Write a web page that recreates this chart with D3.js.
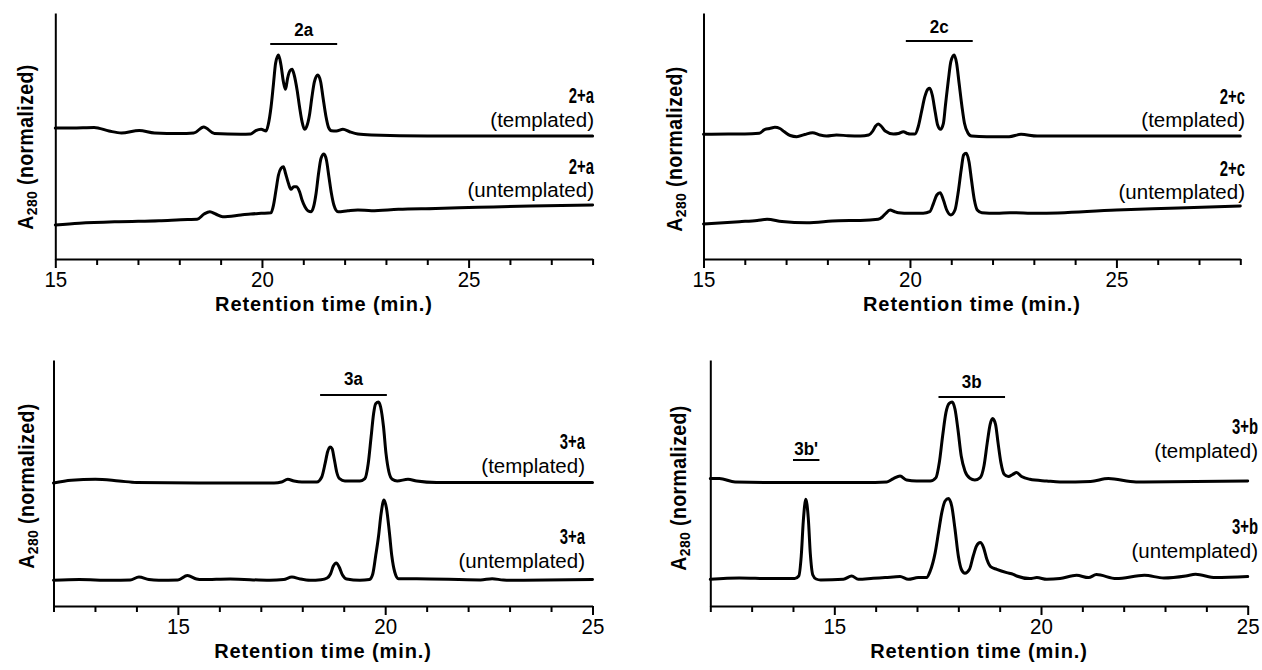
<!DOCTYPE html>
<html lang="en">
<head>
  <meta charset="UTF-8">
  <script src="https://d3js.org/d3.v7.min.js"></script>
  <style>
    body { margin: 0; background: #fff; }
    svg { font-family: "Liberation Sans", Arial, sans-serif; }
    .trace { fill: none; stroke: #000; stroke-width: 3px; stroke-linejoin: round; stroke-linecap: round; }
    .axis path, .axis line { stroke: #000; stroke-width: 2px; }
    .bracket { stroke: #000; stroke-width: 2px; }
  </style>
</head>
<body>
<svg id="chart" width="1262" height="670"></svg>
<script>
  // retention time (min) vs A280, arbitrary units
  const p1Templated = [[15.0,131],[15.4,131],[15.94,131.5],[16.3,128],[16.6,126],[17.03,128.5],[17.4,126],[18.0,125.5],[18.35,126],[18.59,132],[18.85,125.5],[19.49,124.7],[19.73,125],[19.85,128.3],[19.98,129.7],[20.10,128],[20.15,134],[20.22,152],[20.28,175.7],[20.33,195.7],[20.40,204],[20.46,194],[20.52,177],[20.57,169.7],[20.62,180.7],[20.68,188.3],[20.73,189.7],[20.78,184],[20.85,169],[20.91,152],[20.97,137.3],[21.03,129.7],[21.08,132.3],[21.15,144],[21.21,162.3],[21.27,177.3],[21.35,184],[21.42,177.3],[21.48,160.7],[21.55,142.3],[21.61,131.7],[21.68,128.3],[21.80,128],[21.96,129.7],[22.12,127.3],[22.32,125],[22.65,124],[24,123],[26,123],[28,123]];
  const p1Untemplated = [[15.0,34],[15.58,35.7],[16.54,37.3],[17.51,38.3],[18.2,39.5],[18.43,39.7],[18.6,45],[18.74,47.3],[18.88,45],[19.05,42.3],[19.49,44],[19.73,45],[19.98,45.7],[20.22,46.3],[20.28,54],[20.34,69],[20.40,84],[20.46,90.7],[20.52,92.3],[20.57,85.7],[20.64,75.7],[20.70,69.7],[20.77,72.3],[20.83,72.3],[20.91,67.3],[20.97,59],[21.04,52.3],[21.11,48.3],[21.19,47.3],[21.25,52.3],[21.31,65.7],[21.37,85.7],[21.43,100.7],[21.50,105],[21.56,99],[21.62,82.3],[21.68,65.7],[21.74,54],[21.84,47.3],[22.08,48.3],[22.32,49],[22.65,48.3],[23.3,49.7],[24.2,50.5],[25.23,51.7],[26.5,53],[28,54]];

  const p2Templated = [[15.0,124.7],[15.6,125],[16.0,125],[16.35,125.7],[16.49,129.7],[16.6,130.5],[16.73,131.7],[16.85,130.5],[16.95,127.5],[17.1,123.5],[17.26,122.3],[17.45,124.5],[17.64,126.3],[17.82,124],[17.98,123],[18.22,124],[18.5,123.3],[18.8,123],[19.0,124],[19.1,128],[19.17,133],[19.23,135],[19.3,133],[19.4,128],[19.6,125],[19.72,125.5],[19.84,127.3],[19.94,125.5],[20.0,125],[20.12,125],[20.20,132.3],[20.28,147.3],[20.36,162.3],[20.43,169.7],[20.48,170.7],[20.54,164],[20.61,147.3],[20.67,134],[20.74,129.7],[20.81,135.7],[20.86,154],[20.93,179],[20.99,197.3],[21.07,204],[21.13,195.7],[21.19,175.7],[21.26,152.3],[21.32,135.7],[21.40,126.3],[21.49,123],[21.86,122.3],[22.4,122.3],[22.69,124.7],[23.08,123],[25,123],[28,123]];
  const p2Untemplated = [[15.0,35],[15.87,37.3],[16.3,38.5],[16.54,39.7],[16.9,37.5],[17.5,36.3],[18.27,38.3],[18.8,38.5],[19.23,39.7],[19.33,42],[19.40,45],[19.52,49],[19.62,47.5],[19.72,46.3],[20.0,45.7],[20.32,45.7],[20.48,47.3],[20.57,55.7],[20.65,64],[20.73,66.3],[20.81,59],[20.89,49],[20.99,44],[21.09,49],[21.17,67.3],[21.24,89],[21.30,104],[21.36,105.7],[21.43,97.3],[21.49,79],[21.56,59],[21.63,49],[21.74,46.3],[22.1,45.7],[22.42,46.3],[23.08,45.7],[25.0,49],[26.5,51],[28,53]];

  const p3Templated = [[12.0,123],[12.43,125.7],[13.01,126.7],[13.58,125],[14.01,123.5],[15.5,123],[17.32,123],[17.5,124],[17.65,126.7],[17.8,125],[17.99,124],[18.19,124],[18.35,124],[18.47,129],[18.55,142.3],[18.61,154],[18.67,159],[18.72,157.3],[18.77,147.3],[18.83,134],[18.90,127.3],[19.03,125],[19.39,125],[19.51,127.3],[19.59,142.3],[19.66,169],[19.72,192.3],[19.77,202.3],[19.84,204],[19.89,199],[19.96,179],[20.02,152.3],[20.09,134],[20.17,126.7],[20.29,125],[20.55,126.7],[20.76,125],[21.24,123.5],[22.68,123.5],[25,123.5]];
  const p3Untemplated = [[12.0,25.7],[12.62,26.4],[13.39,25.7],[13.85,26],[14.06,29],[14.3,26.5],[14.54,25.7],[15.0,26],[15.23,30.4],[15.45,27],[15.59,26.4],[16.26,27],[17.22,25.7],[17.55,26.5],[17.75,29],[17.95,27],[18.19,25.7],[18.45,26.3],[18.6,28],[18.68,32],[18.75,40],[18.82,43],[18.89,39],[18.97,31],[19.07,27],[19.39,25.7],[19.62,26.5],[19.70,32],[19.77,50],[19.84,70],[19.90,92],[19.97,106],[20.03,98],[20.10,74],[20.16,50],[20.23,34],[20.32,27.3],[20.76,27.3],[22.3,26],[22.58,27.3],[22.85,26],[23.16,25.7],[25,26.4]];

  const p4Templated = [[12.0,127.4],[12.22,127.4],[12.6,124],[13.66,123.4],[14.9,123.4],[15.7,123.4],[16.27,124],[16.43,127.4],[16.59,130],[16.75,126],[16.99,125],[17.32,125],[17.46,128.4],[17.54,143.4],[17.62,170],[17.70,193.4],[17.78,202.7],[17.85,204],[17.92,196.7],[17.99,176.7],[18.07,150],[18.16,135],[18.28,127.7],[18.40,126],[18.53,128.4],[18.62,140],[18.70,163.4],[18.77,181.7],[18.83,187.4],[18.90,181.7],[18.96,163.4],[19.03,143.4],[19.11,131.7],[19.21,129.4],[19.32,131.7],[19.41,133.4],[19.53,129.4],[19.73,126.7],[20.14,125],[20.46,124],[21.2,124.5],[21.63,127.4],[22.3,124],[25,125]];
  const p4Untemplated = [[12.0,26.7],[12.7,28],[13.47,27.4],[14.04,27.4],[14.14,30],[14.20,50],[14.25,85],[14.31,106.7],[14.37,88],[14.42,52],[14.48,31],[14.56,27],[14.67,26],[15.22,26.7],[15.42,30],[15.58,26.7],[15.94,27.7],[16.23,28.4],[16.59,29.4],[16.79,26.7],[17.03,28.4],[17.23,28.4],[17.32,35],[17.44,53.4],[17.52,73.4],[17.60,93.4],[17.68,105],[17.76,107.4],[17.84,100],[17.92,76.7],[18.0,50],[18.08,36],[18.16,32.7],[18.27,36.7],[18.36,50],[18.44,60],[18.53,63.4],[18.61,58.4],[18.69,46.7],[18.78,39.4],[18.93,36.7],[19.17,33.4],[19.33,31.7],[19.41,30],[19.73,27.4],[19.90,28.4],[20.14,26.7],[20.46,27.5],[20.86,30.7],[21.15,28.4],[21.34,31.4],[21.82,27.4],[22.50,30.7],[22.97,28],[23.5,30],[23.74,31.7],[24.22,28.4],[25,29.4]];

  const xDomains = [[15, 28], [15, 28], [12, 25], [12, 25]];
  const tickLabels = [15, 20, 25];
  const yMax = 246;
  const sampleNames = ["2+a", "2+c", "3+a", "3+b"];
  const conditions = ["(templated)", "(untemplated)"];
  const productNames = ["2a", "2c", "3a", "3b"];
  const productRanges = [[20.20, 21.82], [19.90, 21.52], [18.43, 20.04], [17.52, 19.13]];
  const sideProduct = { name: "3b'", range: [14.0, 14.64] };
  const xTitle = "Retention time (min.)";

  const traces = [
    [p1Templated, p1Untemplated],
    [p2Templated, p2Untemplated],
    [p3Templated, p3Untemplated],
    [p4Templated, p4Untemplated]
  ];

  // panel placement in the page
  const layout = [
    { x0: 55.3, x1: 592.6, top: 13, axisY: 259, labelX: 594, labelYs: [103, 127, 174, 197], bracketY: 44, bracketTextY: 36, yTitleX: 33, yTitleY: 147 },
    { x0: 703.5, x1: 1240.3, top: 13, axisY: 259, labelX: 1245, labelYs: [104, 127, 176, 199], bracketY: 41, bracketTextY: 33, yTitleX: 681.5, yTitleY: 149 },
    { x0: 53.5, x1: 592.5, top: 360, axisY: 606, labelX: 585, labelYs: [449, 473, 544, 568], bracketY: 395, bracketTextY: 385, yTitleX: 33.5, yTitleY: 486 },
    { x0: 710.3, x1: 1247.7, top: 360, axisY: 606, labelX: 1258, labelYs: [434, 458, 534, 558], bracketY: 397, bracketTextY: 388, yTitleX: 686, yTitleY: 488 }
  ];

  const svg = d3.select("#chart");

  function addText(g, x, y, str, o) {
    const tr = `translate(${x},${y})` + (o.rotate ? ` rotate(${o.rotate})` : "") + ` scale(${o.sx || 1},${o.sy || 1})`;
    return g.append("text")
      .attr("transform", tr)
      .attr("text-anchor", o.anchor || "middle")
      .attr("font-size", o.size)
      .attr("font-weight", o.weight || "normal")
      .attr("letter-spacing", o.ls || 0)
      .text(str);
  }

  layout.forEach((L, i) => {
    const g = svg.append("g");
    const x = d3.scaleLinear().domain(xDomains[i]).range([L.x0, L.x1]);
    const y = d3.scaleLinear().domain([0, yMax]).range([L.axisY, L.top]);

    // y axis: plain line, no ticks
    g.append("g").attr("class", "axis")
      .attr("transform", `translate(${L.x0},0)`)
      .call(d3.axisLeft(y).tickValues([]).tickSizeOuter(0));

    // x axis: minor tick every minute, longer labelled ticks
    const xa = g.append("g").attr("class", "axis")
      .attr("transform", `translate(0,${L.axisY})`)
      .call(d3.axisBottom(x)
        .tickValues(d3.range(xDomains[i][0], xDomains[i][1] + 1))
        .tickSize(6)
        .tickSizeOuter(0)
        .tickFormat(d => tickLabels.includes(d) ? d : ""));
    xa.selectAll(".tick line").attr("y2", d => tickLabels.includes(d) ? 9 : 6);
    xa.selectAll(".tick text")
      .attr("y", 0).attr("dy", null)
      .attr("transform", "translate(0,28) scale(1,1.1)")
      .attr("font-size", 20.5)
      .attr("font-family", "Liberation Sans, Arial, sans-serif")
      .attr("fill", "#000");

    addText(g, (L.x0 + L.x1) / 2, L.axisY + 52, xTitle, { size: 20, weight: "bold", ls: 0.9, sy: 1.05 });

    // y title with subscript
    const yt = addText(g, L.yTitleX, L.yTitleY, "", { size: 19.5, weight: "bold", ls: 0.4, rotate: -90, sy: 1.1 });
    yt.append("tspan").text("A");
    yt.append("tspan").attr("font-size", 14).attr("dy", 4).text("280");
    yt.append("tspan").attr("dy", -4).text(" (normalized)");

    // traces
    const line = d3.line()
      .x(d => x(d[0]))
      .y(d => y(d[1]))
      .curve(d3.curveMonotoneX);
    traces[i].forEach(tr => {
      g.append("path").attr("class", "trace").attr("d", line(tr));
    });

    // product bracket
    g.append("line").attr("class", "bracket")
      .attr("x1", x(productRanges[i][0])).attr("x2", x(productRanges[i][1]))
      .attr("y1", L.bracketY).attr("y2", L.bracketY);
    addText(g, x((productRanges[i][0] + productRanges[i][1]) / 2), L.bracketTextY, productNames[i], { size: 17, weight: "bold", sy: 1.05 });

    if (i === 3) {
      g.append("line").attr("class", "bracket")
        .attr("x1", x(sideProduct.range[0])).attr("x2", x(sideProduct.range[1]))
        .attr("y1", 460).attr("y2", 460);
      addText(g, x((sideProduct.range[0] + sideProduct.range[1]) / 2), 455, sideProduct.name, { size: 17, weight: "bold", sy: 1.05 });
    }

    // sample labels, right aligned
    conditions.forEach((c, k) => {
      addText(g, L.labelX, L.labelYs[k * 2], sampleNames[i], { size: 19, weight: "bold", anchor: "end", sx: 0.78, sy: 1.12 });
      addText(g, L.labelX, L.labelYs[k * 2 + 1], c, { size: 20.5, anchor: "end" });
    });
  });
</script>
</body>
</html>
